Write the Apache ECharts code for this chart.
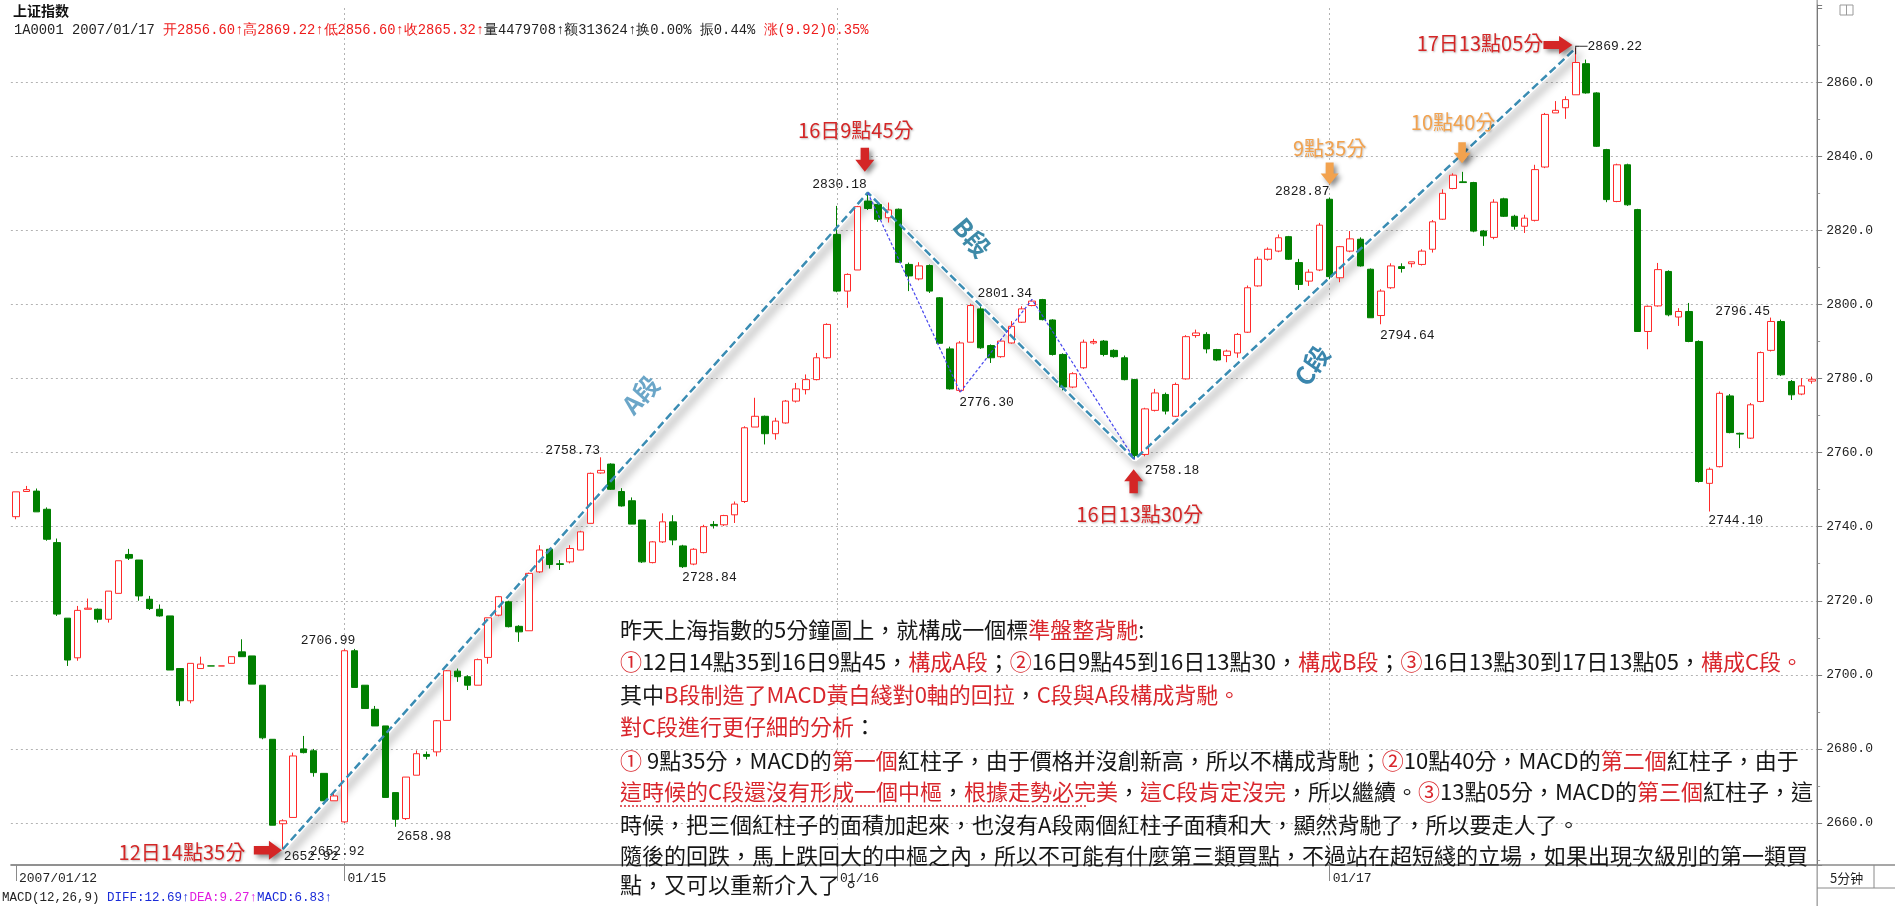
<!DOCTYPE html>
<html>
<head>
<meta charset="utf-8">
<title>上证指数 5分钟</title>
<script src="https://cdn.jsdelivr.net/npm/echarts@6.0.0/dist/echarts.min.js"></script>
<style>
html,body{margin:0;padding:0;background:#ffffff;}
#chart{width:1895px;height:906px;}
</style>
</head>
<body>
<div id="chart"></div>
<script>
// ================= DATA =================
const dayLabels = ['2007/01/12', '01/15', '01/16', '01/17'];
const barsPerDay = [32, 48, 48, 48];

const opens = [
2742.7,2749.5,2749.6,2744.7,2735.7,2715.3,2704.6,2717.7,2717.7,2715.0,
2722.0,2732.5,2731.0,2720.4,2717.7,2715.9,2701.7,2693.0,2701.7,2702.4,
2702.4,2703.1,2706.2,2705.1,2697.2,2682.6,2659.8,2661.5,2680.0,2679.5,
2673.4,2666.0,2660.3,2706.5,2697.2,2690.7,2686.2,2668.2,2661.2,2672.9,
2678.5,2679.2,2687.7,2701.0,2699.5,2697.2,2704.7,2716.1,2719.7,2713.1,
2711.9,2727.8,2733.9,2730.0,2730.5,2733.7,2740.9,2754.5,2756.9,2749.5,
2747.0,2741.8,2730.3,2735.9,2741.3,2734.8,2729.9,2733.0,2740.6,2740.5,
2743.2,2746.8,2766.9,2769.8,2765.1,2768.0,2773.9,2777.0,2779.7,2785.6,
2818.9,2803.6,2809.3,2827.9,2827.0,2823.4,2825.7,2810.8,2806.9,2810.5,
2801.8,2788.0,2776.8,2789.8,2798.8,2788.9,2785.9,2789.6,2795.2,2799.7,
2801.3,2795.8,2786.5,2777.7,2782.9,2789.6,2790.1,2787.6,2785.6,2779.7,
2759.5,2771.4,2775.7,2769.8,2779.9,2791.6,2791.9,2787.8,2786.2,2786.9,
2792.5,2805.0,2812.2,2814.4,2818.3,2811.3,2806.3,2809.3,2828.4,2807.2,
2814.4,2817.6,2809.5,2797.0,2804.5,2810.2,2811.0,2810.8,2814.9,2823.0,
2831.3,2833.1,2832.9,2819.8,2818.1,2828.5,2823.8,2821.1,2822.7,2837.1,
2851.7,2853.1,2856.6,2865.0,2857.1,2841.8,2827.8,2837.7,2825.6,2792.7,
2799.6,2808.9,2796.6,2798.1,2790.0,2751.7,2756.2,2775.3,2765.2,2763.9,
2773.8,2787.6,2795.4,2779.2,2775.8,2779.3
];
const closes = [
2749.4,2750.0,2744.0,2736.6,2716.4,2704.0,2717.4,2718.0,2715.0,2722.6,
2730.8,2731.5,2721.3,2717.9,2715.9,2701.3,2693.0,2703.1,2702.9,2702.4,
2702.4,2704.9,2704.9,2697.5,2683.0,2659.4,2660.6,2678.1,2679.0,2673.6,
2666.0,2667.3,2706.5,2696.6,2690.9,2686.2,2666.9,2661.0,2672.4,2678.7,
2678.0,2687.6,2701.1,2699.5,2697.2,2704.1,2715.4,2721.1,2713.0,2711.6,
2727.4,2733.7,2729.8,2729.8,2734.1,2738.6,2754.4,2755.2,2750.1,2745.6,
2740.7,2730.5,2735.9,2741.3,2736.4,2729.2,2733.9,2740.0,2740.3,2743.0,
2746.1,2766.7,2769.8,2765.1,2768.5,2773.9,2777.2,2779.7,2785.6,2794.6,
2803.6,2808.1,2826.4,2825.9,2823.0,2825.5,2811.4,2807.7,2810.4,2803.6,
2789.5,2777.2,2789.6,2799.7,2788.3,2785.6,2790.1,2794.1,2798.8,2800.9,
2795.9,2786.5,2777.7,2781.3,2789.8,2790.0,2786.5,2785.9,2779.7,2759.2,
2771.8,2776.1,2771.2,2778.4,2791.3,2792.3,2788.0,2785.0,2787.4,2791.9,
2804.5,2812.2,2814.9,2818.0,2812.2,2805.4,2808.7,2821.4,2807.5,2815.6,
2817.7,2810.4,2796.4,2803.6,2810.4,2809.7,2811.5,2814.4,2822.3,2830.0,
2834.9,2832.9,2819.8,2818.5,2827.6,2823.8,2821.1,2823.3,2836.4,2851.3,
2852.4,2855.3,2865.32,2857.1,2842.7,2828.3,2837.7,2826.9,2792.7,2799.5,
2809.4,2797.2,2798.1,2790.0,2752.2,2755.5,2776.0,2765.4,2765.0,2772.9,
2787.0,2795.4,2781.0,2775.6,2778.0,2779.8
];
const lows = [
2742.0,2749.5,2744.0,2736.2,2715.9,2702.4,2703.8,2717.7,2714.1,2714.1,
2722.0,2731.0,2720.0,2717.5,2715.7,2701.3,2691.6,2692.3,2701.7,2702.4,
2702.4,2703.1,2704.9,2697.5,2682.6,2659.4,2652.92,2661.5,2678.8,2672.5,
2666.0,2666.0,2660.0,2696.6,2690.9,2686.2,2666.9,2658.98,2660.8,2672.9,
2677.2,2678.0,2687.7,2698.1,2695.9,2697.2,2703.0,2715.8,2712.8,2708.9,
2711.9,2727.5,2728.7,2728.3,2730.1,2733.7,2740.9,2754.3,2749.9,2745.4,
2740.7,2730.2,2730.1,2735.6,2735.0,2728.84,2729.6,2732.8,2739.5,2740.2,
2741.0,2746.4,2766.9,2762.2,2763.5,2767.8,2773.5,2775.7,2779.5,2785.3,
2803.3,2799.1,2809.3,2825.5,2822.3,2822.1,2811.2,2803.6,2806.5,2803.1,
2789.5,2777.0,2776.30,2789.8,2788.0,2784.2,2785.6,2789.4,2795.0,2799.5,
2795.7,2786.2,2776.8,2777.4,2782.6,2789.2,2786.0,2785.6,2779.5,2758.18,
2759.0,2771.1,2770.3,2769.6,2779.7,2791.0,2786.8,2784.7,2784.4,2785.6,
2792.3,2804.8,2811.8,2814.1,2812.0,2803.9,2805.0,2809.0,2806.8,2806.0,
2814.1,2810.2,2796.4,2794.64,2804.2,2808.6,2810.0,2810.5,2814.0,2822.8,
2831.1,2832.9,2819.5,2815.8,2817.6,2823.6,2820.2,2819.3,2822.4,2836.8,
2851.7,2850.1,2856.6,2856.9,2842.5,2827.6,2827.6,2826.6,2792.7,2787.9,
2799.4,2796.8,2794.2,2789.8,2751.9,2744.10,2756.0,2765.2,2761.2,2763.7,
2773.6,2787.3,2780.7,2774.2,2775.5,2778.6
];
const highs = [
2749.4,2751.0,2750.3,2745.2,2736.8,2715.3,2718.6,2720.6,2717.9,2722.6,
2730.8,2734.0,2731.0,2721.3,2719.0,2715.9,2701.7,2703.1,2704.9,2702.4,
2702.4,2704.9,2709.6,2705.1,2697.2,2682.6,2661.0,2679.0,2683.5,2680.0,
2673.4,2668.6,2706.99,2707.0,2697.2,2691.6,2686.2,2668.2,2672.4,2679.6,
2679.3,2687.8,2701.3,2701.7,2699.9,2704.4,2715.4,2721.3,2720.0,2713.4,
2727.6,2735.0,2734.2,2731.0,2735.0,2738.9,2754.6,2758.73,2757.1,2750.4,
2747.9,2741.8,2736.1,2743.6,2743.1,2735.1,2734.2,2740.5,2741.5,2743.2,
2746.8,2767.1,2774.8,2770.0,2769.4,2774.2,2778.8,2781.1,2786.9,2794.9,
2826.6,2808.4,2826.6,2830.18,2827.5,2827.5,2825.9,2811.3,2811.4,2810.8,
2802.0,2788.6,2790.1,2800.2,2799.5,2789.2,2790.6,2795.5,2799.5,2801.34,
2801.5,2796.0,2786.8,2781.7,2790.5,2790.7,2790.4,2787.9,2786.2,2779.9,
2772.1,2777.2,2776.2,2778.9,2791.7,2793.2,2792.5,2788.0,2787.8,2792.3,
2805.1,2812.9,2815.4,2818.9,2818.5,2812.3,2809.5,2822.0,2828.87,2815.8,
2819.8,2818.1,2809.7,2804.1,2811.1,2811.1,2811.5,2814.9,2822.8,2831.1,
2835.4,2835.8,2833.1,2820.1,2828.4,2828.8,2824.2,2824.2,2837.7,2851.7,
2854.9,2856.2,2869.22,2866.1,2857.3,2842.0,2838.0,2838.0,2825.8,2799.7,
2811.2,2809.2,2799.0,2800.4,2790.3,2756.0,2776.5,2775.8,2765.4,2773.4,
2787.3,2796.45,2795.9,2779.6,2780.1,2780.5
];

const yTickValues = [2660, 2680, 2700, 2720, 2740, 2760, 2780, 2800, 2820, 2840, 2860];

// turning points of the A / B / C legs (bar index, price)
const legIdx = [26, 83, 109, 152];
const legVal = [2652.92, 2830.18, 2758.18, 2869.22];
const legNames = ['A段', 'B段', 'C段'];
// sub-legs inside B
const subIdx = [83, 92, 99, 109];
const subVal = [2830.18, 2776.30, 2801.34, 2758.18];

// labelled extremes
const markIdx = [26, 26, 32, 37, 57, 65, 83, 99, 92, 109, 128, 133, 152, 171, 165];
const markVal = [2652.92, 2652.92, 2706.99, 2658.98, 2758.73, 2728.84, 2830.18, 2801.34, 2776.30, 2758.18, 2828.87, 2794.64, 2869.22, 2796.45, 2744.10];

// time annotations
const noteText = ['12日14點35分', '16日9點45分', '16日13點30分', '17日13點05分', '9點35分', '10點40分'];
const noteIdx = [26, 83, 109, 152, 128, 141];
const noteVal = [2652.92, 2830.18, 2758.18, 2869.22, 2828.87, 2835.8];

// header texts
const headerTitle = '上证指数';
const headerLine = [['k', '1A0001 2007/01/17 '], ['r', '开2856.60↑高2869.22↑低2856.60↑收2865.32↑'], ['k', '量4479708↑额313624↑换0.00% 振0.44% '], ['r', '涨(9.92)0.35%']];
const macdLine = [['k', 'MACD(12,26,9) '], ['b', 'DIFF:12.69↑'], ['m', 'DEA:9.27↑'], ['b', 'MACD:6.83↑']];
const periodText = '5分钟';

// commentary paragraph (k = black, r = red)
const noteLines = [
  [['k', '昨天上海指數的5分鐘圖上，就構成一個標'], ['r', '準盤整背馳'], ['k', ':']],
  [['r', '①'], ['k', '12日14點35到16日9點45，'], ['r', '構成A段'], ['k', '；'], ['r', '②'], ['k', '16日9點45到16日13點30，'], ['r', '構成B段'], ['k', '；'], ['r', '③'], ['k', '16日13點30到17日13點05，'], ['r', '構成C段。']],
  [['k', '其中'], ['r', 'B段制造了MACD黃白綫對0軸的回拉'], ['k', '，'], ['r', 'C段與A段構成背馳。']],
  [['r', '對C段進行更仔細的分析'], ['k', '：']],
  [['r', '①'], ['k', ' 9點35分，MACD的'], ['r', '第一個'], ['k', '紅柱子，由于價格并沒創新高，所以不構成背馳；'], ['r', '②'], ['k', '10點40分，MACD的'], ['r', '第二個'], ['k', '紅柱子，由于']],
  [['r', '這時候的C段還沒有形成一個中樞'], ['k', '，'], ['r', '根據走勢必完美'], ['k', '，'], ['r', '這C段肯定沒完'], ['k', '，所以繼續。'], ['r', '③'], ['k', '13點05分，MACD的'], ['r', '第三個'], ['k', '紅柱子，這']],
  [['k', '時候，把三個紅柱子的面積加起來，也沒有A段兩個紅柱子面積和大，顯然背馳了，所以要走人了。']],
  [['k', '隨後的回跌，馬上跌回大的中樞之內，所以不可能有什麼第三類買點，不過站在超短綫的立場，如果出現次級別的第一類買']],
  [['k', '點，又可以重新介入了。']]
];

// ================= LAYOUT / STYLE =================
const RED = '#d42626';
const ORANGE = '#f2a24e';
const GRID_LEFT = 10.87, GRID_RIGHT_X = 1817.13, GRID_TOP = 5, GRID_BOTTOM_Y = 865;
const Y_MIN = 2648.66, Y_MAX = 2880.84;
const MONO = '"Liberation Mono", "DejaVu Sans Mono", monospace';
const CJK = '"Noto Sans CJK TC", "Noto Sans CJK SC", sans-serif';

const markLayout = [ // align, dx, dy
  ['left', 1, 7], ['left', 27, 2], ['right', 11, -8], ['left', 1, 10], ['right', -1, -7],
  ['left', -1, 10], ['right', -1, -8], ['right', 0, -6], ['left', -1, 10], ['left', 10, 11],
  ['right', 0, -6], ['left', -1, 11], ['left', -4, -1], ['right', -1, -6], ['left', -1, 9]
];
const ARROWS = {
  right: 'path://M0,5 L14,5 L14,0 L26,9 L14,18 L14,13 L0,13 Z',
  down: 'path://M5,0 L13,0 L13,12 L18,12 L9,24 L0,12 L5,12 Z',
  up: 'path://M9,0 L18,12 L13,12 L13,24 L5,24 L5,12 L0,12 Z'
};
const noteLayout = [
  {arrow: 'right', color: RED, ax: -15, ay: 1, aw: 28, ah: 19, tx: -101, ty: 3},
  {arrow: 'down', color: RED, ax: -3, ay: -33, aw: 19, ah: 24, tx: -12, ty: -62},
  {arrow: 'up', color: RED, ax: -1, ay: 22, aw: 19, ah: 24, tx: 5, ty: 55},
  {arrow: 'right', color: RED, ax: -18, ay: -3, aw: 29, ah: 18, tx: -96, ty: -5},
  {arrow: 'down', color: ORANGE, ax: 0, ay: -24, aw: 18, ah: 22, tx: 0, ty: -49},
  {arrow: 'down', color: ORANGE, ax: -1, ay: -19, aw: 17, ah: 21, tx: -10, ty: -49}
];
const legLabelLayout = [ // anchor index, anchor price, dx, rotate, color
  {i: 61, v: 2776.0, dx: -2, rot: 48, color: '#6ba6c8'},
  {i: 93, v: 2818.5, dx: 2, rot: -50, color: '#3e8aa8'},
  {i: 126, v: 2782.4, dx: 5, rot: 55, color: '#3a86ad'}
];

// ================= BUILD =================
function pad2(n) { return (n < 10 ? '0' : '') + n; }
const sessionTimes = [];
for (let i = 0; i < 24; i++) { const m = 9 * 60 + 35 + 5 * i; sessionTimes.push(Math.floor(m / 60) + ':' + pad2(m % 60)); }
for (let i = 0; i < 24; i++) { const m = 13 * 60 + 5 + 5 * i; sessionTimes.push(Math.floor(m / 60) + ':' + pad2(m % 60)); }
const categories = [];
const dayStart = [];
dayLabels.forEach((d, k) => {
  dayStart.push(categories.length);
  sessionTimes.slice(48 - barsPerDay[k]).forEach(t => categories.push(d + ' ' + t));
});
const candleData = opens.map((o, i) => [o, closes[i], lows[i], highs[i]]);

const legData = legIdx.map((i, k) => [i, legVal[k]]);
const subData = subIdx.map((i, k) => [i, subVal[k]]);

const gridMarkLines = yTickValues.map(v => ({yAxis: v}))
  .concat(dayStart.slice(1).map(i => ({xAxis: categories[i]})));

const priceMarks = markIdx.map((idx, k) => {
  const [align, dx, dy] = markLayout[k];
  const txt = (idx === 152 ? '┌─' : '') + markVal[k].toFixed(2);
  return {
    coord: [idx, markVal[k]], symbol: 'circle', symbolSize: 1,
    itemStyle: {color: 'rgba(0,0,0,0)'},
    label: {show: true, position: 'inside', formatter: txt, align: align, verticalAlign: 'middle',
      offset: [dx, dy], color: '#1a1a1a', fontSize: 13, fontFamily: MONO}
  };
});

const noteMarks = [];
noteText.forEach((t, k) => {
  const L = noteLayout[k];
  noteMarks.push({
    coord: [noteIdx[k], noteVal[k]], symbol: ARROWS[L.arrow], symbolSize: [L.aw, L.ah],
    symbolOffset: [L.ax, L.ay], symbolKeepAspect: false,
    itemStyle: {color: L.color, shadowColor: 'rgba(0,0,0,0.45)', shadowBlur: 5, shadowOffsetX: 3, shadowOffsetY: 3},
    label: {show: false}
  });
  noteMarks.push({
    coord: [noteIdx[k], noteVal[k]], symbol: 'circle', symbolSize: 1,
    itemStyle: {color: 'rgba(0,0,0,0)'},
    label: {show: true, position: 'inside', formatter: t, align: 'center', verticalAlign: 'middle',
      offset: [L.tx, L.ty], color: L.color, fontSize: 20, fontFamily: CJK,
      textShadowColor: 'rgba(0,0,0,0.25)', textShadowBlur: 2, textShadowOffsetX: 1, textShadowOffsetY: 1}
  });
});
legNames.forEach((n, k) => {
  const L = legLabelLayout[k];
  noteMarks.push({
    coord: [L.i, L.v], symbol: 'circle', symbolSize: 1, itemStyle: {color: 'rgba(0,0,0,0)'},
    label: {show: true, position: 'inside', formatter: n, align: 'center', verticalAlign: 'middle',
      offset: [L.dx, 0], rotate: L.rot, color: L.color, fontSize: 25, fontWeight: 'bold', fontFamily: CJK}
  });
});

function richLine(segs) { return segs.map(([s, t]) => '{' + s + '|' + t + '}').join(''); }

const paraRich = {
  k: {fill: '#161616', fontSize: 22, fontFamily: 'Noto Sans CJK TC'},
  r: {fill: '#d9262c', fontSize: 22, fontFamily: 'Noto Sans CJK TC'}
};
const paraY = [630, 662, 695, 727, 761, 792, 825, 856, 885];
const graphics = [];
noteLines.forEach((segs, k) => {
  graphics.push({type: 'text', x: 620, y: paraY[k], z: 20,
    style: {text: richLine(segs), rich: paraRich, verticalAlign: 'middle', align: 'left',
      fontSize: 22, fontFamily: 'Noto Sans CJK TC', fill: '#161616'}});
});
// dotted red underline under the emphasised clause of line 6
graphics.push({type: 'line', z: 20, shape: {x1: 620, y1: 806, x2: 1088, y2: 806},
  style: {stroke: '#d9262c', lineWidth: 1.5, lineDash: [2, 2]}});

// header
graphics.push({type: 'text', x: 13, y: 11, z: 20,
  style: {text: headerTitle, font: 'bold 14px "Noto Sans CJK SC"', fill: '#111', verticalAlign: 'middle'}});
graphics.push({type: 'text', x: 14, y: 30, z: 20,
  style: {text: richLine(headerLine), verticalAlign: 'middle', fontSize: 13.8, fontFamily: 'Liberation Mono',
    rich: {k: {fill: '#222', fontSize: 13.8, fontFamily: 'Liberation Mono'}, r: {fill: '#ee1c1c', fontSize: 13.8, fontFamily: 'Liberation Mono'}}}});
// MACD caption
graphics.push({type: 'text', x: 2, y: 898, z: 20,
  style: {text: richLine(macdLine), verticalAlign: 'middle', fontSize: 12.5, fontFamily: 'Liberation Mono',
    rich: {k: {fill: '#222', fontSize: 12.5, fontFamily: 'Liberation Mono'}, b: {fill: '#1a2bd8', fontSize: 12.5, fontFamily: 'Liberation Mono'}, m: {fill: '#e01ee0', fontSize: 12.5, fontFamily: 'Liberation Mono'}}}});
// period box
graphics.push({type: 'text', x: 1830, y: 878, z: 20,
  style: {text: periodText, font: '13px "Noto Sans CJK SC"', fill: '#222', verticalAlign: 'middle'}});
// frame lines
graphics.push({type: 'line', z: 1, shape: {x1: GRID_RIGHT_X, y1: 0, x2: GRID_RIGHT_X, y2: 906}, style: {stroke: '#7a7a7a', lineWidth: 1}});
graphics.push({type: 'line', z: 1, shape: {x1: GRID_LEFT, y1: GRID_BOTTOM_Y, x2: 1895, y2: GRID_BOTTOM_Y}, style: {stroke: '#8a8a8a', lineWidth: 1.5}});
graphics.push({type: 'line', z: 1, shape: {x1: GRID_RIGHT_X, y1: 888, x2: 1895, y2: 888}, style: {stroke: '#8a8a8a', lineWidth: 1}});
graphics.push({type: 'line', z: 1, shape: {x1: 1874, y1: GRID_BOTTOM_Y, x2: 1874, y2: 888}, style: {stroke: '#8a8a8a', lineWidth: 1}});
// small window icon top-right
graphics.push({type: 'rect', z: 1, shape: {x: 1840, y: 5, width: 13, height: 10}, style: {fill: 'none', stroke: '#9a9a9a', lineWidth: 1}});
graphics.push({type: 'line', z: 1, shape: {x1: 1846.5, y1: 5, x2: 1846.5, y2: 15}, style: {stroke: '#9a9a9a', lineWidth: 1}});

const option = {
  animation: false,
  backgroundColor: '#ffffff',
  textStyle: {fontFamily: MONO},
  grid: {left: GRID_LEFT, right: 1895 - GRID_RIGHT_X, top: GRID_TOP, bottom: 906 - GRID_BOTTOM_Y, containLabel: false},
  xAxis: {
    type: 'category', data: categories, boundaryGap: true,
    axisLine: {show: true, lineStyle: {color: '#8a8a8a', width: 1.5}},
    axisTick: {show: true, alignWithLabel: true, interval: (i) => dayStart.includes(i), length: 16, lineStyle: {color: '#8a8a8a'}},
    axisLabel: {show: true, interval: (i) => dayStart.includes(i),
      formatter: (v, i) => { const k = dayStart.indexOf(i); return k >= 0 ? dayLabels[k] : ''; },
      align: 'left', margin: 7, padding: [0, 0, 0, 3], color: '#222', fontSize: 13, fontFamily: MONO},
    splitLine: {show: false}
  },
  yAxis: {
    type: 'value', position: 'right', min: Y_MIN, max: Y_MAX,
    minInterval: 20, maxInterval: 20, splitNumber: 12,
    axisLine: {show: true, lineStyle: {color: '#7a7a7a'}},
    axisTick: {show: true, length: 5, lineStyle: {color: '#7a7a7a'}},
    minorTick: {show: true, splitNumber: 2, length: 3, lineStyle: {color: '#9a9a9a'}},
    axisLabel: {
      margin: 9, color: '#222', fontSize: 13, fontFamily: MONO,
      formatter: (v) => yTickValues.some(t => Math.abs(t - v) < 1e-6) ? v.toFixed(1) : ''
    },
    splitLine: {show: false}
  },
  series: [
    { // soft drop shadow under the leg lines + background grid
      type: 'line', data: legData, symbol: 'none', silent: true, z: 1,
      lineStyle: {color: '#ffffff', width: 5, shadowColor: 'rgba(0,0,0,0.32)', shadowBlur: 8, shadowOffsetX: 4, shadowOffsetY: 6},
      markLine: {silent: true, symbol: 'none', z: 0, label: {show: false},
        lineStyle: {type: [2, 3], color: '#b3b3b3', width: 1}, data: gridMarkLines}
    },
    {
      type: 'candlestick', data: candleData, barWidth: 7, z: 2,
      itemStyle: {color: '#ffffff', color0: '#007f00', borderColor: '#ff2a2a', borderColor0: '#007f00', borderWidth: 1},
      markPoint: {silent: true, z: 6, data: priceMarks}
    },
    { // A / B / C legs
      type: 'line', data: legData, symbol: 'none', silent: true, z: 3,
      lineStyle: {color: '#3a8cb3', width: 2.5, type: [8, 4]},
      markPoint: {silent: true, z: 7, data: noteMarks}
    },
    { // sub-legs of B
      type: 'line', data: subData, symbol: 'none', silent: true, z: 3,
      lineStyle: {color: '#4848ee', width: 1.2, type: [3, 2]}
    }
  ],
  graphic: graphics
};

const chart = echarts.init(document.getElementById('chart'), null, {renderer: 'canvas'});
chart.setOption(option);
</script>
</body>
</html>
